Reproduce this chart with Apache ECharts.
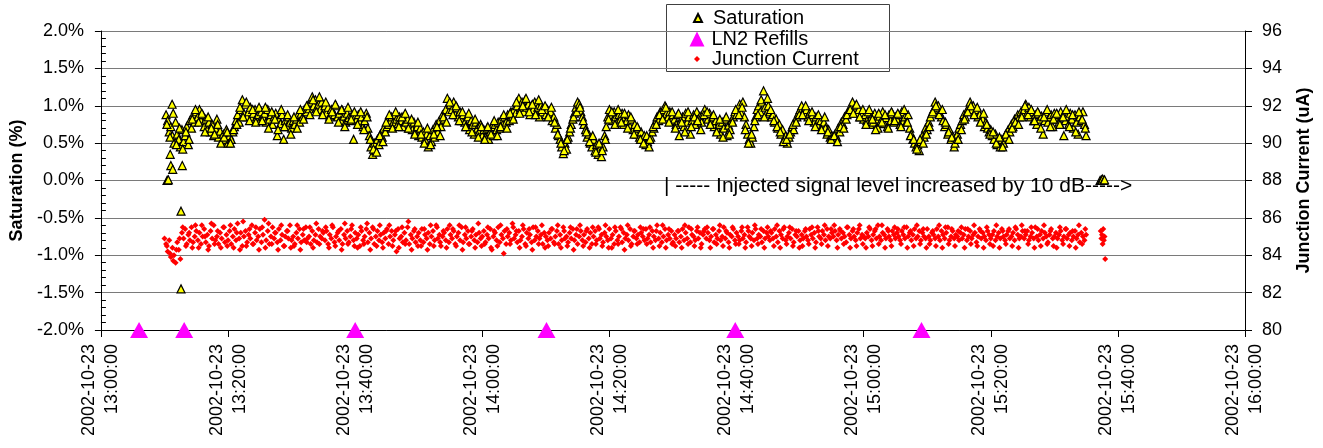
<!DOCTYPE html>
<html>
<head>
<meta charset="utf-8">
<script src="https://cdn.jsdelivr.net/npm/echarts@6/dist/echarts.min.js"></script>
<style>
html,body{margin:0;padding:0;background:#fff;}
#chart{width:1323px;height:448px;}
</style>
</head>
<body>
<div id="chart"></div>
<script>
// ---- Data (minutes after 2002-10-23 13:00:00) ----
const dateLabel = '2002-10-23';
const xTickMinutes = [0, 20, 40, 60, 80, 100, 120, 140, 160, 180];
const sampleStep = 0.25;
const sampleStepB = 0.5;
const satStartMinute = 10.25;
const saturationValues = [
0.88,0.8,0.65,0.72,0.6,0.5,0.78,0.62,0.55,0.45,0.68,0.52,0.6,0.72,0.48,0.8,0.7,0.88,0.78,0.92,
0.85,0.95,0.8,0.88,0.72,0.82,0.68,0.78,0.65,0.75,0.6,0.7,0.82,0.58,0.66,0.52,0.62,0.55,0.68,0.5,
0.6,0.55,0.65,0.72,0.8,0.88,0.78,0.95,1.08,0.9,1.02,0.85,0.92,0.98,0.82,0.9,0.95,0.85,0.88,0.8,
0.92,0.85,0.9,0.78,0.95,0.82,0.88,0.75,0.85,0.9,0.6,0.82,0.76,0.88,0.55,0.8,0.72,0.85,0.78,0.7,
0.8,0.75,0.82,0.88,0.78,0.9,0.85,0.95,0.92,1.0,0.96,1.05,1.12,1.0,1.08,0.98,1.02,0.95,1.05,0.92,
1.0,0.9,0.98,0.86,0.95,0.92,0.88,1.0,0.85,0.9,0.8,0.94,0.86,0.78,0.9,0.84,0.8,0.88,0.55,0.85,
0.82,0.88,0.78,0.85,0.72,0.8,0.9,0.7,0.6,0.45,0.35,0.5,0.4,0.55,0.48,0.62,0.58,0.7,0.65,0.72,
0.75,0.8,0.85,0.78,0.88,0.82,0.76,0.85,0.8,0.72,0.86,0.78,0.82,0.7,0.75,0.68,0.78,0.65,0.72,0.6,
0.7,0.58,0.65,0.55,0.62,0.45,0.6,0.52,0.68,0.58,0.75,0.65,0.8,0.72,0.88,0.82,0.95,1.1,0.92,1.02,
0.95,1.05,0.88,0.98,0.85,0.92,0.8,0.88,0.78,0.72,0.85,0.68,0.8,0.75,0.62,0.78,0.7,0.65,0.75,0.6,
0.68,0.58,0.7,0.55,0.65,0.72,0.6,0.75,0.68,0.78,0.7,0.82,0.75,0.85,0.78,0.88,0.8,0.92,0.85,0.95,
0.9,1.0,1.1,0.95,1.05,0.92,1.08,0.98,1.02,0.88,1.0,0.95,1.05,0.9,0.98,0.85,1.0,0.92,0.96,0.88,
0.95,0.88,0.92,0.8,0.85,0.7,0.75,0.6,0.55,0.45,0.36,0.5,0.42,0.58,0.65,0.75,0.82,0.9,0.98,1.05,
1.02,0.92,0.85,0.75,0.68,0.58,0.62,0.5,0.45,0.55,0.4,0.48,0.35,0.42,0.32,0.45,0.6,0.72,0.85,0.95,
0.88,0.8,0.92,0.85,0.78,0.88,0.82,0.9,0.75,0.85,0.8,0.88,0.72,0.82,0.68,0.75,0.62,0.7,0.58,0.65,
0.55,0.6,0.48,0.52,0.45,0.58,0.65,0.7,0.78,0.85,0.8,0.92,0.88,0.95,1.0,0.9,0.85,0.92,0.8,0.88,
0.82,0.75,0.88,0.6,0.8,0.85,0.72,0.9,0.78,0.85,0.62,0.8,0.88,0.75,0.92,0.82,0.86,0.78,0.9,0.95,
0.88,0.82,0.9,0.78,0.85,0.72,0.8,0.68,0.75,0.62,0.78,0.7,0.82,0.6,0.74,0.68,0.8,0.85,0.92,0.88,
0.95,1.02,0.9,1.05,0.85,0.75,0.62,0.55,0.5,0.58,0.72,0.85,0.95,1.0,0.92,1.05,1.2,0.98,0.9,1.0,
0.92,0.85,0.88,0.78,0.82,0.7,0.75,0.62,0.68,0.55,0.6,0.5,0.58,0.65,0.72,0.68,0.8,0.85,0.9,0.95,
1.0,0.92,0.88,0.95,0.85,0.9,0.82,0.88,0.78,0.85,0.75,0.82,0.8,0.72,0.78,0.7,0.62,0.68,0.58,0.6,
0.55,0.62,0.58,0.7,0.65,0.78,0.75,0.85,0.82,0.92,0.9,0.98,1.05,0.95,1.0,0.9,0.95,0.85,0.9,0.82,
0.88,0.8,0.92,0.75,0.85,0.78,0.9,0.82,0.7,0.86,0.8,0.92,0.76,0.84,0.72,0.88,0.8,0.9,0.78,0.85,
0.82,0.88,0.75,0.92,0.8,0.85,0.78,0.88,0.7,0.62,0.55,0.5,0.45,0.48,0.4,0.52,0.6,0.58,0.7,0.68,
0.78,0.85,0.9,0.95,1.05,0.98,1.0,0.9,0.85,0.8,0.72,0.75,0.62,0.68,0.55,0.6,0.45,0.58,0.62,0.7,
0.75,0.8,0.88,0.85,0.92,0.98,1.05,0.95,1.0,0.9,0.95,0.85,0.88,0.8,0.82,0.72,0.78,0.7,0.65,0.68,
0.6,0.55,0.62,0.48,0.52,0.45,0.55,0.5,0.6,0.58,0.68,0.65,0.75,0.72,0.82,0.78,0.88,0.85,0.92,0.9,
0.95,1.02,0.9,0.98,0.85,0.92,0.8,0.88,0.75,0.9,0.82,0.86,0.62,0.8,0.92,0.78,0.85,0.88,0.72,0.9,
0.82,0.88,0.78,0.92,0.85,0.6,0.8,0.86,0.75,0.9,0.82,0.7,0.88,0.78,0.62,0.85,0.8,0.92,0.75,0.6
];
const satStartMinuteB = 10.375;
const saturationValuesB = [
0.75,0.58,0.9,0.48,0.7,0.42,0.65,0.55,0.82,0.95,
0.78,0.9,0.65,0.85,0.7,0.62,0.75,0.5,0.58,0.65,
0.5,0.68,0.75,0.98,0.85,1.05,0.8,0.95,0.78,0.98,
0.8,0.98,0.7,0.92,0.82,0.68,0.95,0.72,0.88,0.62,
0.85,0.7,0.95,0.82,1.0,0.88,1.08,0.92,1.12,0.88,
1.05,0.82,0.92,1.02,0.78,0.95,0.72,0.98,0.82,0.92,
0.75,0.92,0.68,0.85,0.55,0.42,0.38,0.6,0.52,0.78,
0.88,0.7,0.92,0.72,0.85,0.9,0.7,0.82,0.62,0.78,
0.62,0.5,0.7,0.48,0.62,0.72,0.6,0.85,0.78,1.05,
0.88,1.0,0.8,0.92,0.72,0.9,0.65,0.82,0.58,0.72,
0.55,0.72,0.62,0.8,0.6,0.72,0.88,0.7,0.9,0.82,
1.05,0.9,1.0,1.1,0.92,1.02,0.88,1.08,0.95,1.0,
0.85,0.98,0.78,0.62,0.5,0.4,0.55,0.7,0.85,0.92,
0.98,0.8,0.65,0.52,0.6,0.38,0.5,0.4,0.55,0.82,
0.92,0.75,0.95,0.78,0.9,0.7,0.85,0.62,0.72,0.55,
0.5,0.6,0.55,0.72,0.75,0.88,0.82,0.98,0.78,0.92,
0.7,0.9,0.78,0.65,0.92,0.72,0.85,0.8,0.68,0.88,
0.92,0.75,0.88,0.65,0.82,0.58,0.85,0.62,0.78,0.95,
0.88,0.98,0.68,0.5,0.62,0.8,0.88,1.08,0.85,1.1,
0.95,0.8,0.72,0.65,0.52,0.55,0.62,0.75,0.78,0.88,
0.88,1.0,0.8,0.92,0.72,0.88,0.68,0.85,0.65,0.55,
0.6,0.52,0.72,0.7,0.88,0.95,0.9,1.02,0.85,0.95,
0.75,0.95,0.82,0.68,0.9,0.78,0.88,0.7,0.92,0.8,
0.9,0.72,0.95,0.78,0.6,0.55,0.42,0.55,0.5,0.62,
0.72,0.92,1.0,0.88,0.95,0.78,0.65,0.58,0.5,0.55,
0.68,0.82,0.92,1.0,0.88,0.98,0.78,0.9,0.75,0.62,
0.65,0.5,0.58,0.45,0.62,0.55,0.7,0.78,0.75,0.85,
1.0,0.88,0.95,0.8,0.92,0.7,0.85,0.95,0.72,0.82,
0.9,0.75,0.85,0.95,0.72,0.88,0.65,0.92,0.82,0.7
];
const saturationExtra = [
[10.4,0.0],[10.5,0.0],[10.6,0.01],[10.9,0.35],[11.0,0.2],[11.2,1.02],[11.3,0.15],
[12.6,-0.41],[12.6,-1.45],[12.8,0.2],
[157.2,0.0],[157.4,0.01],[157.5,0.0],[157.6,0.02],[157.8,0.0],[157.9,0.01]
];
const junctionStartMinute = 10.25;
const junctionValues = [
84.6,84.2,84.8,83.9,84.4,84.0,83.6,84.7,84.3,83.8,85.2,84.9,85.4,84.6,85.1,84.8,85.5,84.7,85.0,85.3,
84.8,85.2,84.6,85.0,85.4,84.7,85.1,84.5,85.3,84.9,85.6,84.8,85.0,84.6,85.2,84.9,85.5,84.7,85.1,84.8,
85.3,84.6,85.0,85.4,84.8,85.7,84.9,85.2,84.5,85.0,85.3,84.7,85.1,84.9,85.6,84.6,85.2,84.8,85.0,85.4,
84.7,85.1,85.9,84.8,85.3,84.6,85.0,85.5,84.9,85.2,84.7,85.4,84.8,85.1,84.5,85.0,85.3,84.9,85.6,84.8,
85.0,84.6,85.2,84.9,85.4,84.7,85.1,84.8,85.5,84.9,85.0,84.6,85.3,84.8,85.1,84.7,85.4,85.0,84.9,85.2,
84.8,85.3,84.6,85.1,84.9,85.5,84.7,85.0,85.2,84.8,85.4,84.6,85.1,84.9,85.3,84.7,85.0,85.6,84.8,85.2,
84.9,85.1,84.5,85.3,84.8,85.0,85.4,84.7,85.2,84.9,85.5,84.6,85.0,85.3,84.8,85.1,84.7,85.2,84.9,85.4,
84.6,85.0,85.3,84.8,85.1,84.2,85.4,84.9,85.0,84.7,85.2,84.8,85.5,84.6,85.1,84.9,85.3,84.7,85.0,85.2,
84.8,85.4,84.7,85.1,84.9,85.2,84.6,85.0,85.3,84.8,85.6,84.9,85.1,84.5,85.0,85.2,84.8,85.4,84.7,85.1,
84.9,85.3,84.6,85.0,85.2,84.8,85.5,84.7,85.1,84.9,85.3,84.6,85.0,85.4,84.8,85.1,84.7,85.2,84.9,85.0,
85.3,84.7,85.1,84.9,85.4,84.3,85.0,85.2,84.8,85.5,84.7,85.1,84.9,85.3,84.6,85.0,85.2,84.8,85.7,84.9,
85.1,84.7,85.3,84.8,85.0,85.4,84.6,85.2,84.9,85.1,84.7,85.5,84.8,85.0,85.3,84.9,85.1,84.6,85.2,85.0,
84.8,85.2,84.9,85.4,84.7,85.0,85.3,84.6,85.1,84.8,85.5,84.9,85.0,84.7,85.2,84.9,85.4,84.8,85.1,84.6,
85.0,85.3,84.8,85.1,84.7,85.4,84.9,85.2,84.6,85.0,85.3,84.8,85.5,84.9,85.1,84.7,85.2,85.0,84.8,85.4,
84.9,85.1,84.6,85.3,84.8,85.0,85.5,84.7,85.2,84.9,85.1,84.8,85.4,84.6,85.0,85.3,84.9,85.1,84.7,85.2,
85.0,84.8,85.4,84.9,85.1,84.7,85.3,85.0,84.8,85.6,84.9,85.2,84.7,85.0,85.4,84.8,85.1,84.9,85.3,84.7,
85.1,84.9,85.3,84.7,85.0,85.4,84.8,85.2,84.9,85.5,84.7,85.1,85.0,84.8,85.3,84.9,85.2,84.6,85.1,85.4,
84.9,85.2,84.8,85.0,85.4,84.7,85.1,84.9,85.3,84.8,85.0,85.5,84.9,85.2,84.7,85.1,85.0,85.4,84.8,85.2,
85.0,84.8,85.3,84.9,85.1,84.7,85.5,85.0,84.9,85.2,84.8,85.4,84.9,85.1,85.0,84.7,85.3,84.9,85.2,85.0,
84.8,85.2,84.9,85.4,85.0,84.7,85.3,85.1,84.9,85.5,84.8,85.0,85.2,84.9,85.4,84.7,85.1,85.0,85.3,84.8,
85.1,84.9,85.3,85.0,84.8,85.4,85.1,84.9,85.2,84.7,85.5,85.0,84.9,85.3,85.1,84.8,85.4,85.0,84.9,85.2,
85.0,85.3,84.8,85.1,85.4,84.9,85.2,85.0,84.7,85.5,85.1,84.9,85.3,85.0,84.8,85.2,85.4,84.9,85.1,85.0,
84.9,85.2,85.0,85.4,84.8,85.1,85.3,84.9,85.6,85.0,84.8,85.2,85.1,84.9,85.4,85.0,84.8,85.3,85.1,84.9,
85.2,85.0,84.8,85.3,85.1,84.9,85.5,85.0,85.2,84.8,85.1,85.4,84.9,85.0,85.3,84.8,85.2,85.0,84.9,85.4,
85.0,84.8,85.2,85.1,84.9,85.4,85.0,84.8,85.3,85.1,84.9,85.2,85.5,84.8,85.0,85.3,84.9,85.1,85.0,84.8,
85.2,84.9,85.1,85.4,84.8,85.0,85.3,84.9,85.1,85.2,84.7,85.0,85.4,84.9,85.2,85.0,84.8,85.3,85.1,84.9,
85.1,85.3,84.8,85.0,85.2,84.9,85.4,85.0,84.8,85.1,85.3,84.9,85.0,85.2,84.8,85.4,85.1,84.9,85.0,85.3,
84.9,85.1,85.3,84.8,85.0,85.2,84.9,85.5,85.0,84.8,85.1,85.3,84.9,85.2,85.0,84.7,85.1,85.4,84.9,85.0,
85.2,84.9,85.1,85.3,84.8,85.0,85.4,84.9,85.1,85.2,84.8,85.0,85.3,84.9,85.1,84.7,85.2,85.0,84.8,85.1
];
const junctionStartMinuteB = 10.375;
const junctionValuesB = [
84.5,84.1,83.7,84.3,84.9,85.5,84.5,85.2,84.4,85.6,
84.4,85.6,85.0,84.3,85.7,84.6,85.3,84.4,85.5,84.5,
85.6,84.4,85.2,84.3,85.8,84.5,85.4,84.6,85.5,84.3,
85.5,84.4,85.7,84.6,85.2,84.3,85.6,84.5,85.3,84.4,
84.5,85.6,84.3,85.4,84.7,85.5,84.4,85.7,84.6,85.3,
85.5,84.4,85.6,84.5,85.3,84.3,85.7,84.6,85.4,84.5,
84.4,85.5,84.6,85.7,84.3,85.4,84.5,85.6,84.4,85.3,
85.6,84.5,85.3,84.4,85.5,84.6,85.8,84.3,85.4,84.5,
84.5,85.4,84.3,85.6,84.5,85.5,84.7,85.3,84.4,85.6,
85.4,84.5,85.6,84.3,85.5,84.6,85.3,84.4,85.7,84.5,
84.6,85.5,84.4,85.3,84.5,85.6,84.1,85.4,84.6,85.5,
85.3,84.4,85.6,84.5,85.4,84.3,85.5,84.6,85.6,84.4,
84.5,85.4,84.6,85.6,84.4,85.3,84.5,85.5,84.3,85.4,
85.6,84.5,85.3,84.4,85.5,84.6,85.4,84.5,85.6,84.4,
84.4,85.5,84.6,85.4,84.3,85.6,84.5,85.3,84.6,85.5,
85.4,84.6,85.5,84.4,85.3,84.5,85.6,84.4,85.4,84.6,
84.5,85.3,84.4,85.6,84.6,85.4,84.5,85.5,84.4,85.3,
85.5,84.4,85.4,84.6,85.6,84.5,85.3,84.4,85.5,84.6,
84.6,85.5,84.4,85.3,84.5,85.6,84.6,85.4,84.4,85.5,
85.3,84.5,85.6,84.4,85.4,84.6,85.5,84.5,85.3,84.4,
84.5,85.4,84.6,85.5,84.4,85.3,84.6,85.6,84.5,85.4,
85.6,84.4,85.3,84.6,85.5,84.4,85.4,84.5,85.6,84.6,
84.4,85.5,84.5,85.4,84.6,85.6,84.4,85.3,84.5,85.5,
85.4,84.6,85.5,84.4,85.3,84.5,85.6,84.6,85.4,84.4,
84.6,85.3,84.5,85.6,84.4,85.5,84.6,85.4,84.5,85.3,
85.5,84.4,85.4,84.6,85.6,84.5,85.3,84.4,85.5,84.6,
84.5,85.6,84.4,85.3,84.6,85.4,84.5,85.5,84.4,85.6,
85.3,84.6,85.5,84.4,85.4,84.5,85.6,84.6,85.3,84.5,
84.4,85.5,84.6,85.4,84.5,85.3,84.4,85.6,84.6,85.4
];
const junctionExtra = [
[10.0,84.9],[157.3,85.3],[157.4,84.9],[157.5,85.1],[157.6,84.6],[157.7,85.4],[157.8,84.8],[157.9,85.0],[158.0,83.8]
];
const refillMinutes = [6.0, 13.1, 40.0, 70.1, 99.8, 129.1];
const refillLevel = -2.0;
const annotationText = '| ----- Injected signal level increased by 10 dB----->';

// ---- Build ----
const FONT = '"Liberation Sans", Arial, sans-serif';
const satData = saturationValues.map((v, i) => [satStartMinute + i * sampleStep, v])
  .concat(saturationValuesB.map((v, i) => [satStartMinuteB + i * sampleStepB, v]))
  .concat(saturationExtra);
const junData = junctionValues.map((v, i) => [junctionStartMinute + i * sampleStep, v])
  .concat(junctionValuesB.map((v, i) => [junctionStartMinuteB + i * sampleStepB, v]))
  .concat(junctionExtra);
const refillData = refillMinutes.map(m => [m, refillLevel]);

function fmtTime(m) {
  const h = 13 + Math.floor(m / 60);
  const mm = Math.round(m % 60);
  return dateLabel + '\n' + h + ':' + String(mm).padStart(2, '0') + ':00';
}

function legendItem(name, top, size, textPad) {
  return {data: [name], left: 697 - size / 2, top: top, padding: 0,
    itemWidth: size, itemHeight: size, itemGap: 0,
    textStyle: {fontSize: 20, fontFamily: FONT, color: '#000', lineHeight: 20, padding: [0, 0, 0, textPad]}};
}

const chart = echarts.init(document.getElementById('chart'), null, {renderer: 'canvas'});
chart.setOption({
  animation: false,
  backgroundColor: '#fff',
  textStyle: {fontFamily: FONT, color: '#000'},
  grid: {left: 100, right: 78, top: 31, bottom: 118},
  xAxis: {
    type: 'value', min: xTickMinutes[0], max: xTickMinutes[xTickMinutes.length - 1], interval: 20,
    axisLine: {show: true, onZero: false, lineStyle: {color: '#000', width: 1}},
    axisTick: {show: true, length: 7, lineStyle: {color: '#000'}},
    splitLine: {show: false},
    axisLabel: {rotate: 90, margin: 14, fontSize: 18, color: '#000', fontFamily: FONT, lineHeight: 23,
      formatter: v => fmtTime(v)}
  },
  yAxis: [{
    type: 'value', min: -2, max: 2, interval: 0.5, position: 'left',
    name: 'Saturation (%)', nameLocation: 'middle', nameRotate: 90, nameGap: 74,
    nameTextStyle: {fontSize: 18, fontWeight: 'bold', color: '#000', fontFamily: FONT},
    axisLine: {show: true, lineStyle: {color: '#000'}},
    axisTick: {show: true, length: 6, lineStyle: {color: '#000'}},
    splitLine: {show: true, lineStyle: {color: '#7a7a7a', width: 1}},
    axisLabel: {margin: 17, fontSize: 18, color: '#000', fontFamily: FONT,
      formatter: v => v.toFixed(1) + '%'}
  }, {
    type: 'value', min: 80, max: 96, interval: 2, position: 'right',
    name: 'Junction Current (uA)', nameLocation: 'middle', nameRotate: 90, nameGap: 50,
    nameTextStyle: {fontSize: 18, fontWeight: 'bold', color: '#000', fontFamily: FONT},
    axisLine: {show: true, lineStyle: {color: '#000'}},
    axisTick: {show: true, length: 7, lineStyle: {color: '#000'}},
    splitLine: {show: false},
    axisLabel: {margin: 17, fontSize: 18, color: '#000', fontFamily: FONT}
  }, {
    // inside minor ticks of the saturation axis
    type: 'value', min: -2, max: 2, interval: 0.5, position: 'left',
    axisLine: {show: false}, axisLabel: {show: false}, splitLine: {show: false},
    axisTick: {show: false, inside: true},
    minorTick: {show: true, splitNumber: 5, length: 5, lineStyle: {color: '#000'}}
  }],
  legend: [
    legendItem('Saturation', 8, 8, 6),
    legendItem('LN2 Refills', 29, 15, 2),
    legendItem('Junction Current', 49, 6, 7)
  ],
  graphic: [
    {type: 'rect', left: 666, top: 4, z: 0, shape: {width: 223, height: 67},
      style: {fill: '#fff', stroke: '#404040', lineWidth: 1}},
    {type: 'text', left: 664, top: 176, z: 100,
      style: {text: annotationText, fontSize: 21, fontFamily: FONT, fill: '#000'}}
  ],
  series: [
    {name: 'Junction Current', type: 'scatter', yAxisIndex: 1, data: junData,
      symbol: 'diamond', symbolSize: 6, itemStyle: {color: '#ff0000', opacity: 1}, z: 2},
    {name: 'Saturation', type: 'scatter', yAxisIndex: 0, data: satData,
      symbol: 'triangle', symbolSize: 8, itemStyle: {color: '#ffff00', borderColor: '#000', borderWidth: 1.2, opacity: 1}, z: 3},
    {name: 'LN2 Refills', type: 'scatter', yAxisIndex: 0, data: refillData, clip: false,
      symbol: 'triangle', symbolSize: [18, 16], itemStyle: {color: '#ff00ff', opacity: 1}, z: 4}
  ]
});
</script>
</body>
</html>
